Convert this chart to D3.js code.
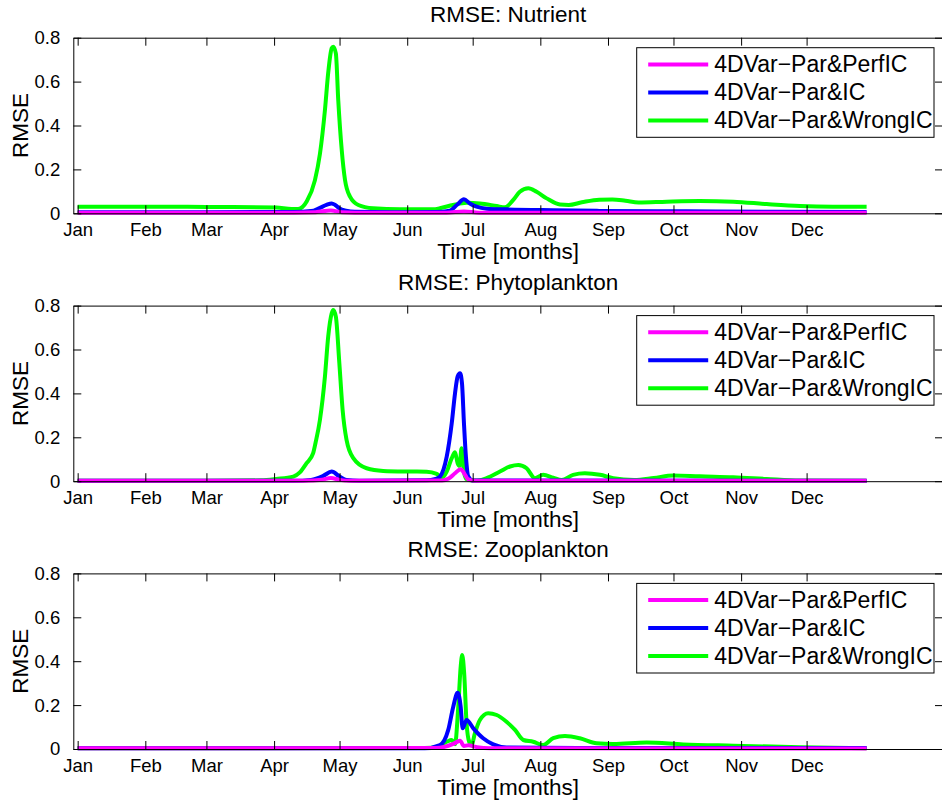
<!DOCTYPE html>
<html>
<head>
<meta charset="utf-8">
<script src="https://cdn.jsdelivr.net/npm/d3@7"></script>
<style>
  html, body { margin: 0; padding: 0; background: #fff; }
  svg { display: block; font-family: "Liberation Sans", Arial, Helvetica, sans-serif; }
</style>
</head>
<body>
<div id="chart"></div>
<script>
// month ticks (day of year) and labels
const monthDays = [1, 32, 60, 91, 121, 152, 182, 213, 244, 274, 305, 335];
const monthLabels = ["Jan", "Feb", "Mar", "Apr", "May", "Jun", "Jul", "Aug", "Sep", "Oct", "Nov", "Dec"];
const yTicks = [0, 0.2, 0.4, 0.6, 0.8];
const yTickLabels = ["0", "0.2", "0.4", "0.6", "0.8"];

const seriesNames = ["4DVar\u2212Par&PerfIC", "4DVar\u2212Par&IC", "4DVar\u2212Par&WrongIC"];
const seriesColors = ["#ff00ff", "#0000ff", "#00ff00"];
const panelTitles = ["RMSE: Nutrient", "RMSE: Phytoplankton", "RMSE: Zooplankton"];

// [day of year, RMSE]
const nutrientPerf = [[1,0.003],[100,0.003],[110,0.005],[117,0.013],[122,0.005],[128,0.003],[170,0.003],[178,0.008],[185,0.003],[362.5,0.002]];
const nutrientIC = [[1,0.005],[60,0.005],[100,0.006],[108,0.010],[112,0.025],[115,0.038],[117.4,0.045],[119,0.038],[121,0.022],[124,0.012],[128,0.007],[150,0.005],[165,0.006],[171.5,0.012],[175,0.040],[178,0.064],[180.7,0.045],[183.8,0.030],[188.4,0.021],[197.5,0.018],[218.8,0.014],[240,0.011],[280,0.009],[320,0.007],[362.5,0.006]];
const nutrientWrong = [[1,0.030],[30,0.030],[60,0.029],[92,0.026],[99,0.020],[102,0.020],[106,0.055],[109.7,0.15],[112,0.27],[114.3,0.47],[115.8,0.64],[117.4,0.752],[118.1,0.759],[119.3,0.729],[120.4,0.516],[122,0.288],[123.5,0.152],[125.8,0.076],[129.6,0.038],[136.4,0.023],[148.7,0.018],[163.9,0.018],[167,0.023],[173,0.038],[179.2,0.048],[185.3,0.045],[193,0.033],[196.8,0.027],[200.6,0.061],[203.6,0.098],[207.5,0.114],[211.3,0.098],[215.9,0.068],[222,0.040],[226,0.038],[232,0.050],[240,0.062],[246,0.063],[252,0.057],[258,0.049],[270.9,0.053],[286,0.056],[301.4,0.053],[316.7,0.042],[332,0.033],[347,0.030],[362.5,0.030]];

const phytoPerf = [[1,0.002],[105,0.002],[113,0.007],[117,0.015],[121,0.006],[126,0.002],[168,0.003],[171,0.012],[173.9,0.036],[176.5,0.055],[178.5,0.029],[180,0.008],[183,0.002],[362.5,0.002]];
const phytoIC = [[1,0.002],[100,0.002],[108,0.006],[113.5,0.024],[117.4,0.044],[121,0.021],[124.2,0.005],[130,0.002],[160.8,0.004],[165,0.010],[167,0.021],[170.1,0.112],[172.4,0.264],[173.9,0.400],[175.1,0.477],[176.2,0.492],[177.1,0.446],[178,0.264],[178.9,0.112],[180,0.021],[182,0.003],[362.5,0.002]];
const phytoWrong = [[1,0.002],[60,0.002],[85,0.004],[92,0.010],[99.8,0.021],[102.8,0.040],[105.9,0.082],[108.9,0.128],[110,0.175],[112,0.279],[114.3,0.477],[115.8,0.659],[117.4,0.765],[118.1,0.780],[119.3,0.750],[120.9,0.538],[122.4,0.325],[124.2,0.188],[127.3,0.105],[133.4,0.059],[141,0.047],[153.3,0.044],[160.9,0.043],[165.5,0.033],[168,0.016],[170.1,0.044],[172.4,0.105],[173.9,0.132],[175.1,0.082],[176,0.070],[176.9,0.150],[178,0.044],[179.2,0.009],[182,0.003],[186,0.006],[188.4,0.014],[194.5,0.044],[199.1,0.067],[202.9,0.074],[206.7,0.059],[210.5,0.014],[214.3,0.029],[218.9,0.016],[222.8,0.005],[228,0.029],[233.4,0.036],[240.3,0.029],[246.4,0.014],[256,0.006],[265,0.015],[273.9,0.026],[286,0.022],[301.4,0.018],[316.7,0.010],[332,0.003],[362.5,0.002]];

const zooPerf = [[1,0.003],[165,0.004],[173.1,0.023],[176.2,0.038],[178,0.014],[180,0.017],[184,0.008],[190,0.003],[362.5,0.002]];
const zooIC = [[1,0.003],[160,0.003],[167,0.018],[170.8,0.087],[173.1,0.193],[175.1,0.256],[176.5,0.193],[177.4,0.094],[179.2,0.132],[182.3,0.094],[186.8,0.049],[191.4,0.021],[197.5,0.007],[230,0.005],[362.5,0.004]];
const zooWrong = [[1,0.003],[160,0.004],[166,0.010],[170.1,0.033],[172.4,0.041],[173.9,0.022],[175.4,0.193],[176.5,0.375],[177.2,0.428],[178.1,0.345],[179.2,0.117],[180.4,0.033],[181.5,0.018],[183,0.071],[185.3,0.132],[189.1,0.163],[193,0.155],[197.5,0.124],[201.4,0.087],[205.2,0.041],[209.7,0.033],[214.3,0.018],[218.9,0.049],[224.3,0.059],[231.1,0.049],[238.8,0.026],[246.4,0.023],[261.7,0.030],[278.5,0.021],[301.4,0.015],[332,0.008],[362.5,0.003]];

const panels = [
    [nutrientPerf, nutrientIC, nutrientWrong],
    [phytoPerf, phytoIC, phytoWrong],
    [zooPerf, zooIC, zooWrong]
];

const width = 942;
const height = 804;
const plotLeft = 73.3;
const plotRight = 943;
const panelTops = [37.7, 305.6, 573.4];
const panelHeight = 175.6;
const tickLen = 8;

const svg = d3.select("#chart")
    .append("svg")
    .attr("width", width)
    .attr("height", height);

svg.append("rect").attr("width", width).attr("height", height).attr("fill", "#fff");

const x = d3.scaleLinear()
    .domain([-1, 397.5])
    .range([plotLeft, plotRight]);

panels.forEach((series, i) => {
    const top = panelTops[i];
    const y = d3.scaleLinear()
        .domain([0, 0.8])
        .range([top + panelHeight, top]);

    const g = svg.append("g");

    const line = d3.line()
        .x(d => x(d[0]))
        .y(d => y(d[1]))
        .curve(d3.curveMonotoneX);

    // green first, magenta on top
    [2, 1, 0].forEach(k => {
        g.append("path")
            .datum(series[k])
            .attr("fill", "none")
            .attr("stroke", seriesColors[k])
            .attr("stroke-width", 4)
            .attr("stroke-linejoin", "round")
            .attr("d", line);
    });

    // axes, ticks pointing inward
    const bottom = g.append("g")
        .attr("transform", `translate(0,${top + panelHeight})`)
        .call(d3.axisBottom(x).tickValues(monthDays).tickSizeInner(-tickLen).tickSizeOuter(0)
            .tickPadding(tickLen + 6).tickFormat((d, j) => monthLabels[j]));
    const topAxis = g.append("g")
        .attr("transform", `translate(0,${top})`)
        .call(d3.axisTop(x).tickValues(monthDays).tickSizeInner(-tickLen).tickSizeOuter(0).tickFormat(""));
    const left = g.append("g")
        .attr("transform", `translate(${plotLeft},0)`)
        .call(d3.axisLeft(y).tickValues(yTicks).tickSizeInner(-tickLen).tickSizeOuter(0)
            .tickPadding(tickLen + 5).tickFormat((d, j) => yTickLabels[j]));
    const right = g.append("g")
        .attr("transform", `translate(${plotRight},0)`)
        .call(d3.axisRight(y).tickValues(yTicks).tickSizeInner(-tickLen).tickSizeOuter(0).tickFormat(""));

    [bottom, topAxis, left, right].forEach(a => {
        a.selectAll("path.domain").attr("stroke", "#000").attr("stroke-width", 1);
        a.selectAll(".tick line").attr("stroke", "#000").attr("stroke-width", 1);
        a.selectAll("text").attr("fill", "#000").style("font-size", "18.5px")
            .style("font-family", "'Liberation Sans', Arial, sans-serif");
    });
    bottom.selectAll("text").attr("dy", null).attr("y", 23);

    // titles
    g.append("text")
        .attr("x", (plotLeft + plotRight) / 2)
        .attr("y", top - 16)
        .attr("text-anchor", "middle")
        .style("font-size", "22.5px")
        .text(panelTitles[i]);

    g.append("text")
        .attr("x", (plotLeft + plotRight) / 2)
        .attr("y", top + panelHeight + 46)
        .attr("text-anchor", "middle")
        .style("font-size", "22.5px")
        .text("Time [months]");

    g.append("text")
        .attr("transform", `translate(28,${top + panelHeight / 2}) rotate(-90)`)
        .attr("text-anchor", "middle")
        .style("font-size", "22.5px")
        .text("RMSE");

    // legend
    const leg = g.append("g").attr("transform", `translate(636.7,${top + 10})`);
    leg.append("rect")
        .attr("width", 297.3)
        .attr("height", 89.6)
        .attr("fill", "#fff")
        .attr("stroke", "#000")
        .attr("stroke-width", 1);
    seriesNames.forEach((name, k) => {
        const ry = 16.7 + k * 28;
        leg.append("line")
            .attr("x1", 11.5).attr("x2", 71.5)
            .attr("y1", ry).attr("y2", ry)
            .attr("stroke", seriesColors[k])
            .attr("stroke-width", 4);
        leg.append("text")
            .attr("x", 77.5)
            .attr("y", ry + 8)
            .style("font-size", "23px")
            .text(name);
    });
});
</script>
</body>
</html>
